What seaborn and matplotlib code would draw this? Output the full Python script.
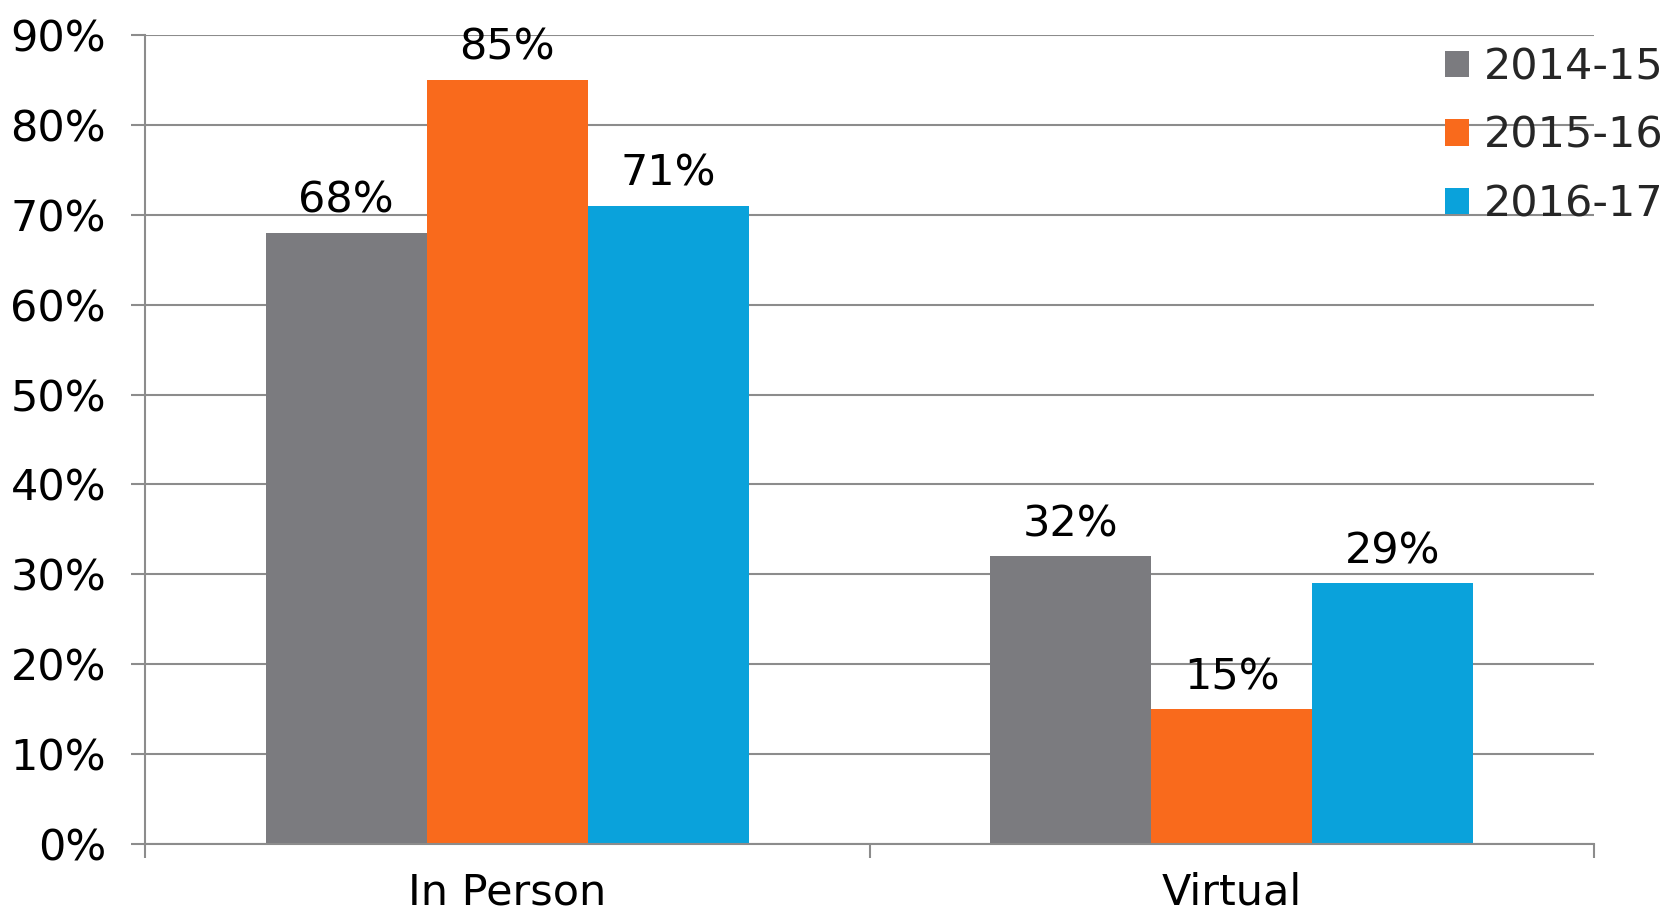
import matplotlib

matplotlib.use("Agg")
import matplotlib.pyplot as plt
from matplotlib.patches import Patch
import pandas as pd
import seaborn as sns

# values (percent)
categories = ["In Person", "Virtual"]
years = ["2014-15", "2015-16", "2016-17"]
in_person = [68, 85, 71]
virtual = [32, 15, 29]
yticks = [0, 10, 20, 30, 40, 50, 60, 70, 80, 90]
colors = ["#7b7b7f", "#f96a1c", "#0aa2db"]

rows = []
for cat, vals in zip(categories, [in_person, virtual]):
    for yr, v in zip(years, vals):
        rows.append({"mode": cat, "year": yr, "pct": v})
df = pd.DataFrame(rows)

sns.set_theme(style="white")
plt.rcParams["font.family"] = ["DejaVu Sans"]
grid_c = "#8c8c8c"
fs = 31

fig = plt.figure(figsize=(16.78, 9.16), dpi=100, facecolor="white")
ax = fig.add_axes([145 / 1678, 1 - 844 / 916, (1594 - 145) / 1678, (844 - 35) / 916])

sns.barplot(
    data=df, x="mode", y="pct", hue="year", hue_order=years,
    palette=colors, width=2 / 3, saturation=1, legend=False, ax=ax,
    linewidth=0, edgecolor="none",
)

for cont in ax.containers:
    ax.bar_label(cont, labels=["%d%%" % round(b.get_height()) for b in cont],
                 padding=8, fontsize=fs, color="black")

ax.set_xlim(-0.5, 1.5)
ax.set_ylim(0, 90)
ax.set_yticks(yticks)
ax.set_yticklabels(["%d%%" % t for t in yticks], fontsize=fs)
ax.yaxis.grid(True, color=grid_c, linewidth=1.5)
ax.set_axisbelow(True)
ax.tick_params(axis="y", which="major", left=True, length=10, width=1.5,
               color=grid_c, pad=18, labelcolor="black")

# category boundaries get the tick marks, names sit in between
ax.set_xticks([-0.5, 0.5, 1.5])
ax.set_xticklabels(["", "", ""])
ax.set_xticks([0, 1], minor=True)
ax.set_xticklabels(categories, minor=True, fontsize=fs)
ax.tick_params(axis="x", which="major", bottom=True, length=10, width=1.5, color=grid_c)
ax.tick_params(axis="x", which="minor", bottom=False, length=0, pad=20, labelcolor="black")
ax.set_xlabel("")
ax.set_ylabel("")

for side in ["top", "right"]:
    ax.spines[side].set_visible(False)
for side in ["left", "bottom"]:
    ax.spines[side].set_color(grid_c)
    ax.spines[side].set_linewidth(1.5)

handles = [Patch(facecolor=c, edgecolor="none") for c in colors]
ax.legend(
    handles, years, loc="upper right", bbox_to_anchor=(1664 / 1678, 1 - 46 / 916),
    bbox_transform=fig.transFigure, frameon=False, fontsize=fs,
    handlelength=0.56, handleheight=0.56, handletextpad=0.35,
    labelspacing=0.62, borderpad=0, borderaxespad=0,
)

fig.savefig("out.png", dpi=100, facecolor="white")
plt.close(fig)
